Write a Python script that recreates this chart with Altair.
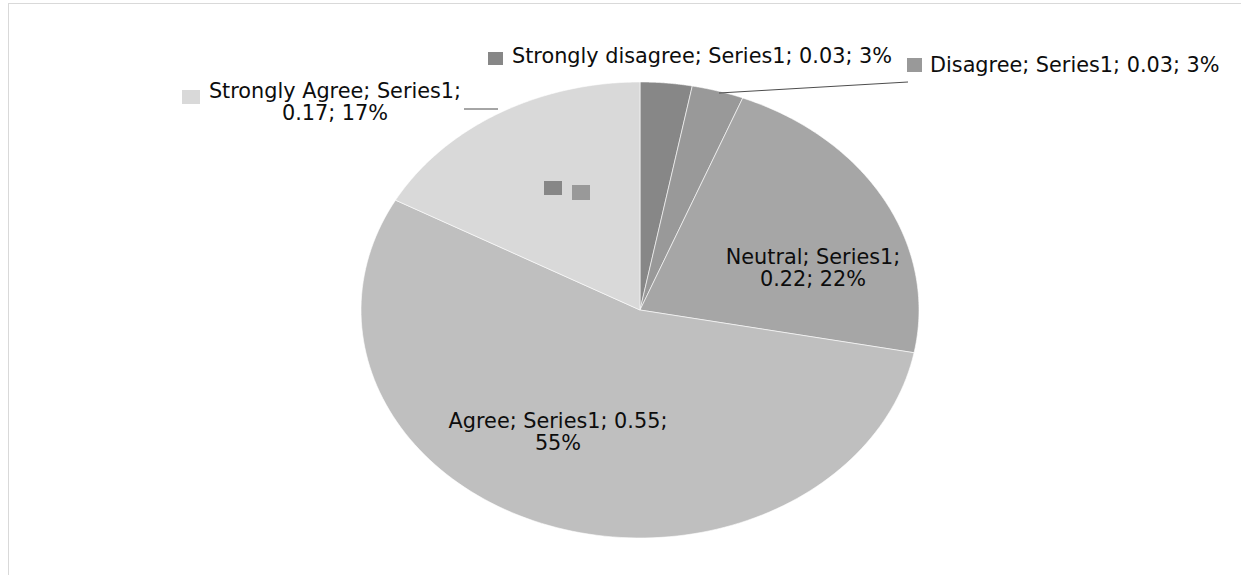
import altair as alt
import pandas as pd

# Survey responses (one series)
categories = ["Strongly disagree", "Disagree", "Neutral", "Agree", "Strongly Agree"]
values = [0.03, 0.03, 0.22, 0.55, 0.17]
series_name = "Series1"
shades = ["#878787", "#999999", "#a6a6a6", "#bfbfbf", "#d9d9d9"]

# Canvas and ellipse geometry (pixels)
W, H = 1241, 575
CX, CY, RX, RY = 640, 310, 279, 228
N_ARC = 120

FONT = "DejaVu Sans"
FONT_SIZE = 20.8
LINE_GAP = 22

xs = lambda f: alt.X(f, type="quantitative", scale=alt.Scale(domain=[0, W], nice=False, zero=False), axis=None)
ys = lambda f: alt.Y(f, type="quantitative", scale=alt.Scale(domain=[0, H], nice=False, zero=False, reverse=True), axis=None)
color = alt.Color("category:N", scale=alt.Scale(domain=categories, range=shades), legend=None)

slices = pd.DataFrame({"category": categories, "value": values, "idx": list(range(len(categories)))})

# Pie slices: each slice is a closed polygon (centre + arc samples) on the ellipse,
# starting at 12 o'clock and running clockwise.
pie = (
    alt.Chart(slices)
    .transform_joinaggregate(total="sum(value)")
    .transform_window(cum="sum(value)", sort=[alt.SortField("idx")], frame=[None, 0])
    .transform_calculate(start="datum.cum - datum.value", k=f"sequence(0, {N_ARC + 1})")
    .transform_flatten(["k"])
    .transform_calculate(
        theta=f"2 * PI * (datum.start + datum.value * (datum.k - 1) / {N_ARC - 1}) / datum.total"
    )
    .transform_calculate(
        px=f"datum.k == 0 ? {CX} : {CX} + {RX} * sin(datum.theta)",
        py=f"datum.k == 0 ? {CY} : {CY} - {RY} * cos(datum.theta)",
    )
    .mark_line(interpolate="linear-closed", filled=True, stroke="white", strokeWidth=0.6)
    .encode(x=xs("px"), y=ys("py"), color=color, order=alt.Order("k:Q"), detail="category:N")
)

# Data labels: "category; series; value; percent", placed by hand
label_pos = {
    "Strongly disagree": (512, 63, "left", None),
    "Disagree": (930, 72, "left", None),
    "Neutral": (813, 264, "center", 2),
    "Agree": (558, 428, "center", 3),
    "Strongly Agree": (335, 98, "center", 2),
}
rows = []
for c, v in zip(categories, values):
    parts = [c, series_name, f"{v:.2f}", f"{round(v * 100)}%"]
    x, y, align, split = label_pos[c]
    if split is None:
        text = "; ".join(parts)
    else:
        text = "; ".join(parts[:split]) + ";\n" + "; ".join(parts[split:])
    rows.append({"category": c, "text": text, "px": x, "py": y, "align": align})
labels = pd.DataFrame(rows)

def text_layer(align):
    return (
        alt.Chart(labels[labels["align"] == align])
        .mark_text(
            align=align, baseline="alphabetic", font=FONT, fontSize=FONT_SIZE,
            color="#0d0d0d", lineBreak="\n", lineHeight=LINE_GAP,
        )
        .encode(x=xs("px"), y=ys("py"), text="text:N")
    )

# Legend keys that Excel attaches to each data label
keys = pd.DataFrame(
    [
        ("Strongly disagree", 488, 503, 52, 65),
        ("Strongly disagree", 544, 562, 181, 195),
        ("Disagree", 907, 922, 58, 72),
        ("Disagree", 572, 590, 185, 200),
        ("Neutral", 701, 717, 257, 271),
        ("Agree", 423, 439, 423, 437),
        ("Strongly Agree", 182, 200, 90, 104),
        ("Strongly Agree", 454, 472, 196, 211),
    ],
    columns=["category", "x0", "x1", "y0", "y1"],
)
key_marks = (
    alt.Chart(keys)
    .mark_rect()
    .encode(x=xs("x0"), x2="x1:Q", y=ys("y0"), y2="y1:Q", color=color)
)

# Leader lines from labels to their slices
leaders = pd.DataFrame({"x0": [464, 719], "y0": [109, 93], "x1": [498, 908], "y1": [109, 82]})
leader_marks = (
    alt.Chart(leaders)
    .mark_rule(color="#4d4d4d", strokeWidth=1)
    .encode(x=xs("x0"), y=ys("y0"), x2="x1:Q", y2="y1:Q")
)

# Chart-area frame (left and top edges)
frame = pd.DataFrame({"x0": [8.5, 8], "y0": [3, 3.5], "x1": [8.5, W], "y1": [H, 3.5]})
frame_marks = (
    alt.Chart(frame)
    .mark_rule(color="#d9d9d9", strokeWidth=1)
    .encode(x=xs("x0"), y=ys("y0"), x2="x1:Q", y2="y1:Q")
)

chart = (
    alt.layer(frame_marks, pie, leader_marks, key_marks, text_layer("left"), text_layer("center"))
    .properties(width=W, height=H, padding=0, autosize=alt.AutoSizeParams(type="none"), background="white")
    .configure_view(stroke=None)
)

chart.save("out.html", embed_options={"renderer": "svg", "actions": False})
